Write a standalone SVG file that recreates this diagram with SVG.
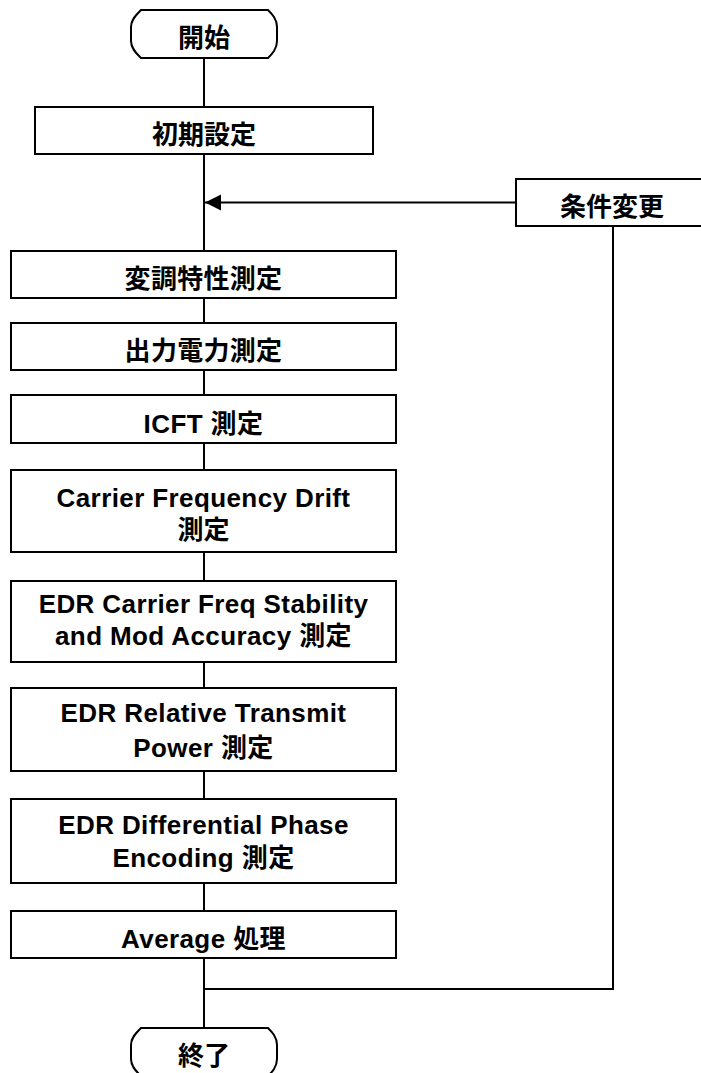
<svg xmlns="http://www.w3.org/2000/svg" width="701" height="1073" viewBox="0 0 701 1073">
<style>
.box{fill:#fff;stroke:#000;stroke-width:2}
.ln{fill:none;stroke:#000;stroke-width:2}
.t{font-family:"Liberation Sans","Noto Sans CJK JP",sans-serif;font-weight:bold;font-size:26px;fill:#000;text-anchor:middle}
.l{letter-spacing:0.4px}
</style>
<defs>
<marker id="ah" markerUnits="userSpaceOnUse" markerWidth="17" markerHeight="18" refX="16" refY="8.5" orient="auto">
<path d="M0,0.5 L16,8.5 L0,16.5 Z" fill="#000"/>
</marker>
</defs>
<rect width="701" height="1073" fill="#fff"/>
<g id="connectors">
<path class="ln" d="M204,58 V107"/>
<path class="ln" d="M204,154 V251"/>
<path class="ln" d="M204,298 V323"/>
<path class="ln" d="M204,370 V395"/>
<path class="ln" d="M204,443 V470"/>
<path class="ln" d="M204,552 V581"/>
<path class="ln" d="M204,662 V688"/>
<path class="ln" d="M204,771 V799"/>
<path class="ln" d="M204,883 V911"/>
<path class="ln" d="M204,958 V1028"/>
<path class="ln" d="M516,202.5 H205" marker-end="url(#ah)"/>
<path class="ln" d="M613,226 V989 H204"/>
</g>
<g id="start">
<path class="box" d="M141,10 H268 C272,14 277,19 277,27 V41 C277,49 272,54 268,58 H141 C137,54 131,49 131,41 V27 C131,19 137,14 141,10 Z"/>
<text class="t" x="204" y="47" font-size="27">開始</text>
</g>
<g id="init">
<rect class="box" x="35" y="107" width="338" height="47"/>
<text class="t" x="204" y="144">初期設定</text>
</g>
<g id="cond">
<rect class="box" x="516" y="179" width="200" height="47"/>
<text class="t" x="612" y="216">条件変更</text>
</g>
<g id="mod">
<rect class="box" x="11" y="251" width="385" height="47"/>
<text class="t" x="203.5" y="288" letter-spacing="0.3">変調特性測定</text>
</g>
<g id="power">
<rect class="box" x="11" y="323" width="385" height="47"/>
<text class="t" x="203.5" y="360" letter-spacing="0.3">出力電力測定</text>
</g>
<g id="icft">
<rect class="box" x="11" y="395" width="385" height="48"/>
<text class="t l" x="203.5" y="433">ICFT 測定</text>
</g>
<g id="cfd">
<rect class="box" x="11" y="470" width="385" height="82"/>
<text class="t l" x="203.5" y="507">Carrier Frequency Drift</text>
<text class="t" x="203.5" y="539">測定</text>
</g>
<g id="edrcfs">
<rect class="box" x="11" y="581" width="385" height="81"/>
<text class="t l" x="203.5" y="613">EDR Carrier Freq Stability</text>
<text class="t l" x="203.5" y="645">and Mod Accuracy 測定</text>
</g>
<g id="edrrtp">
<rect class="box" x="11" y="688" width="385" height="83"/>
<text class="t l" x="203.5" y="722">EDR Relative Transmit</text>
<text class="t l" x="203.5" y="757">Power 測定</text>
</g>
<g id="edrdpe">
<rect class="box" x="11" y="799" width="385" height="84"/>
<text class="t l" x="203.5" y="834">EDR Differential Phase</text>
<text class="t l" x="203.5" y="867">Encoding 測定</text>
</g>
<g id="avg">
<rect class="box" x="11" y="911" width="385" height="47"/>
<text class="t l" x="203.5" y="948">Average 処理</text>
</g>
<g id="end">
<path class="box" d="M141,1028 H268 C272,1032 277,1037 277,1045 V1059 C277,1067 272,1072 268,1076 H141 C137,1072 131,1067 131,1059 V1045 C131,1037 137,1032 141,1028 Z"/>
<text class="t" x="204" y="1065" font-size="27">終了</text>
</g>
</svg>
